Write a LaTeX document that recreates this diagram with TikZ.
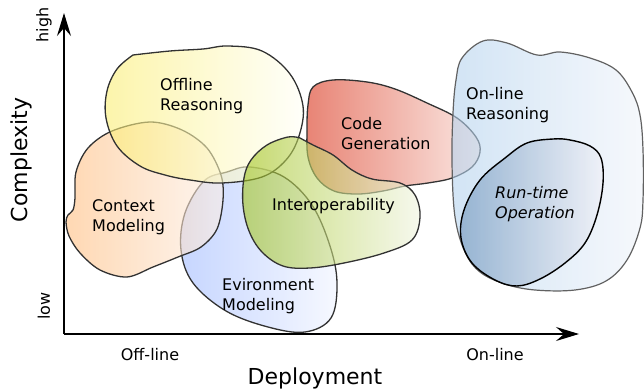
\documentclass[tikz,border=0pt]{standalone}
\usepackage{fontspec}
\setmainfont{DejaVu Sans}
\usetikzlibrary{arrows.meta}
\definecolor{offL}{RGB}{250,238,115}
\definecolor{offR}{RGB}{255,255,247}
\definecolor{ctxL}{RGB}{255,190,128}
\definecolor{ctxR}{RGB}{252,240,232}
\definecolor{envL}{RGB}{160,186,255}
\definecolor{envR}{RGB}{240,244,255}
\definecolor{intL}{RGB}{160,195,30}
\definecolor{intR}{RGB}{240,244,225}
\definecolor{codL}{RGB}{217,50,25}
\definecolor{codR}{RGB}{247,215,207}
\definecolor{onlL}{RGB}{180,210,238}
\definecolor{onlR}{RGB}{240,244,250}
\definecolor{runL}{RGB}{110,148,187}
\definecolor{runR}{RGB}{240,240,247}
\definecolor{outl}{RGB}{50,50,50}
\begin{document}
\begin{tikzpicture}[x=1pt,y=-1pt,
  blob/.style={draw=outl, line width=1.3pt, fill opacity=0.6, line join=round},
  lbl/.style={anchor=west, align=left, inner sep=0pt, font=\fontsize{16}{20}\selectfont},
  axlbl/.style={inner sep=0pt, font=\fontsize{16}{20}\selectfont},
  axtitle/.style={inner sep=0pt, font=\fontsize{22}{26}\selectfont},
  axis/.style={line width=1.2pt, -{Stealth[length=23pt, width=14pt, inset=8pt]}}]
\useasboundingbox (0,0) rectangle (644,390);

% Environment Modeling
\path[blob, left color=envL, right color=envR] plot[smooth cycle, tension=0.6] coordinates
 {(250,167) (284,177) (312,205) (330,246) (337,283) (331,318) (305,332) (268,327) (226,311) (193,283) (181,250) (185,213) (204,181) (227,172)};
% Context Modeling
\path[blob, left color=ctxL, right color=ctxR] plot[smooth cycle, tension=0.55] coordinates
 {(150,122) (182,130) (207,148) (221,175) (223,200) (217,229) (201,247) (178,257) (153,267) (127,277) (100,270) (80,253) (69,236) (66,222) (68,215) (73,210) (75,198) (76,172) (88,148) (112,131)};
% Offline Reasoning
\path[blob, left color=offL, right color=offR] plot[smooth, tension=0.6] coordinates
 {(133,55) (170,51) (203,49) (228,46) (262,51) (290,74) (303,106) (299,136) (286,160) (262,177) (222,183) (190,180) (165,175) (140,166) (117,146) (106,118) (107,91) (117,69) (133,55)} -- cycle;
% Code Generation
\path[blob, left color=codL, right color=codR] plot[smooth cycle, tension=0.6] coordinates
 {(313,87) (333,80) (367,82) (395,89) (427,103) (457,118) (476,137) (480,152) (472,167) (452,178) (428,183) (405,186) (383,191) (358,194) (334,191) (317,178) (308,157) (307,130) (308,105)};
% Interoperability
\path[blob, left color=intL, right color=intR] plot[smooth, tension=0.6] coordinates
 {(300,138) (313,145) (333,155) (352,170) (372,179) (400,183) (415,195) (420,217) (412,240) (384,253) (344,263) (310,268) (283,266) (262,252) (249,231) (243,205) (244,178) (251,160) (267,145) (288,137) (300,138)} -- cycle;
% On-line Reasoning
\path[blob, draw=black!62, line width=1.2pt, left color=onlL, right color=onlR] plot[smooth cycle, tension=0.6] coordinates
 {(462,58) (483,41) (507,43) (537,55) (560,52) (590,58) (616,70) (632,92) (640,115) (643,150) (643,200) (640,228) (627,260) (606,281) (575,290) (535,290) (505,284) (480,272) (465,252) (455,217) (452,163) (453,113) (456,80)};
% Run-time Operation
\path[blob, draw=black, line width=1.4pt, left color=runL, right color=runR] plot[smooth cycle, tension=0.6] coordinates
 {(553,139) (527,143) (505,158) (480,180) (464,210) (461,238) (472,263) (495,280) (517,286) (540,279) (565,263) (585,243) (597,215) (603,183) (601,158) (590,146) (570,140)};

% labels
\node[lbl] (off) at (160,96) {Offline\\Reasoning};
\node[lbl] (ctx) at (92,217) {Context\\Modeling};
\node[lbl] (env) at (222,296) {Evironment\\Modeling};
\node[lbl] (int) at (272,206) {Interoperability};
\node[lbl] (cod) at (341,134) {Code\\Generation};
\node[lbl] (onl) at (466,105) {On-line\\Reasoning};
\node[lbl, font=\fontsize{16}{20}\selectfont\itshape] (run) at (495,204) {Run-time\\Operation};

% axes
\coordinate (O) at (64,334);
\coordinate (ytip) at (64,13);
\coordinate (xtip) at (579,334);
\draw[axis] (O) -- (ytip);
\draw[axis] (O) -- (xtip);

\node[axlbl, rotate=90] (high) at (44,25) {high};
\node[axlbl, rotate=90] (low) at (44,306) {low};
\node[axtitle, rotate=90] (cplx) at (21,160) {Complexity};
\node[axlbl] (offl) at (150,355) {Off-line};
\node[axlbl] (onl2) at (495,355) {On-line};
\node[axtitle] (dep) at (315,378) {Deployment};
\end{tikzpicture}
\end{document}
